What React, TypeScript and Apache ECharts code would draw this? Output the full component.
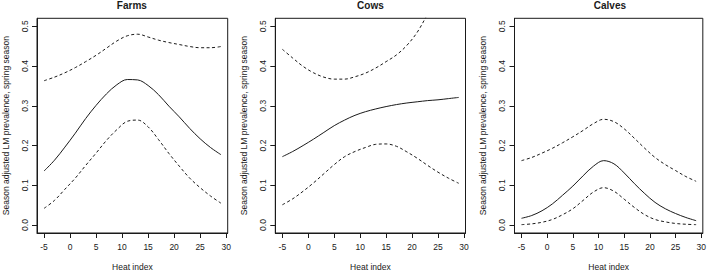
import React, { useEffect, useRef } from "react";
import * as echarts from "echarts";

const heatIndex = [-5, -3, -1, 1, 3, 5, 7, 9, 11, 13, 15, 17, 19, 21, 23, 25, 27, 29];

const farmsFit = [0.136, 0.163, 0.196, 0.231, 0.268, 0.301, 0.330, 0.353, 0.366, 0.365, 0.351, 0.328, 0.299, 0.272, 0.243, 0.217, 0.195, 0.177];
const farmsUpper = [0.363, 0.372, 0.383, 0.396, 0.411, 0.427, 0.445, 0.463, 0.476, 0.480, 0.473, 0.465, 0.459, 0.454, 0.449, 0.446, 0.446, 0.449];
const farmsLower = [0.042, 0.062, 0.090, 0.118, 0.150, 0.181, 0.213, 0.240, 0.261, 0.264, 0.247, 0.215, 0.180, 0.148, 0.118, 0.094, 0.073, 0.055];

const cowsFit = [0.172, 0.185, 0.200, 0.216, 0.233, 0.250, 0.264, 0.276, 0.285, 0.292, 0.298, 0.303, 0.307, 0.310, 0.313, 0.315, 0.318, 0.321];
const cowsUpper = [0.442, 0.420, 0.399, 0.383, 0.372, 0.367, 0.367, 0.373, 0.382, 0.395, 0.411, 0.428, 0.452, 0.485, 0.530, 0.570, 0.620, 0.670];
const cowsLower = [0.051, 0.066, 0.085, 0.106, 0.129, 0.152, 0.172, 0.185, 0.195, 0.203, 0.204, 0.198, 0.184, 0.168, 0.150, 0.133, 0.118, 0.105];

const calvesFit = [0.017, 0.024, 0.036, 0.053, 0.075, 0.098, 0.124, 0.148, 0.162, 0.154, 0.131, 0.104, 0.079, 0.057, 0.041, 0.029, 0.019, 0.011];
const calvesUpper = [0.162, 0.170, 0.181, 0.193, 0.207, 0.222, 0.238, 0.255, 0.266, 0.260, 0.242, 0.218, 0.193, 0.170, 0.152, 0.137, 0.122, 0.110];
const calvesLower = [0.001, 0.003, 0.007, 0.014, 0.026, 0.041, 0.062, 0.083, 0.094, 0.085, 0.065, 0.044, 0.026, 0.014, 0.008, 0.004, 0.002, 0.001];

const panelTitles = ["Farms", "Cows", "Calves"];
const xTicks = [-5, 0, 5, 10, 15, 20, 25, 30];
const yTicks = [0, 0.1, 0.2, 0.3, 0.4, 0.5];
const xAxisTitle = "Heat index";
const yAxisTitle = "Season adjusted LM prevalence, spring season";

const allPanels = [
  { fit: farmsFit, upper: farmsUpper, lower: farmsLower },
  { fit: cowsFit, upper: cowsUpper, lower: cowsLower },
  { fit: calvesFit, upper: calvesUpper, lower: calvesLower },
];

const FONT = "'Liberation Sans', Arial, Helvetica, sans-serif";
const INK = "#1a1a1a";

export default function App() {
  const ref = useRef<HTMLDivElement>(null);

  useEffect(() => {
    if (!ref.current) return;
    const chart = echarts.init(ref.current, undefined, { renderer: "svg" });

    const gridLefts = [36, 275.3, 514.5];
    const gridWidths = [191.7, 190.2, 190.8];
    const top = 18.3;
    const height = 220.2;

    const grids = gridLefts.map((l, i) => ({
      left: l,
      top,
      width: gridWidths[i],
      height,
      show: true,
      borderColor: INK,
      borderWidth: 1,
      backgroundColor: "transparent",
      containLabel: false,
    }));

    const xAxes = gridLefts.map((_, i) => ({
      type: "value",
      gridIndex: i,
      min: -6.36,
      max: 30.3,
      splitLine: { show: false },
      axisLine: { show: true, onZero: false, lineStyle: { color: INK, width: 1 } },
      axisTick: {
        show: true,
        customValues: xTicks,
        length: 5,
        inside: false,
        lineStyle: { color: INK, width: 1 },
      },
      axisLabel: {
        customValues: xTicks,
        fontSize: 8.5,
        fontFamily: FONT,
        color: INK,
        margin: 9,
        formatter: (v: number) => String(v),
      },
      name: xAxisTitle,
      nameLocation: "middle",
      nameGap: 29,
      nameTextStyle: { fontSize: 8.5, fontFamily: FONT, color: INK },
    }));

    const yAxes = gridLefts.map((_, i) => ({
      type: "value",
      gridIndex: i,
      min: -0.02,
      max: 0.52,
      splitLine: { show: false },
      axisLine: { show: true, onZero: false, lineStyle: { color: INK, width: 1 } },
      axisTick: {
        show: true,
        customValues: yTicks,
        length: 5,
        inside: false,
        lineStyle: { color: INK, width: 1 },
      },
      axisLabel: {
        customValues: yTicks,
        rotate: 90,
        fontSize: 8.5,
        fontFamily: FONT,
        color: INK,
        margin: 8,
        formatter: (v: number) => v.toFixed(1),
      },
      name: yAxisTitle,
      nameLocation: "middle",
      nameGap: 27,
      nameTextStyle: { fontSize: 8.5, fontFamily: FONT, color: INK },
    }));

    const series: any[] = [];
    allPanels.forEach((p, i) => {
      const mk = (vals: number[], dashed: boolean) => ({
        type: "line",
        xAxisIndex: i,
        yAxisIndex: i,
        data: heatIndex.map((x, k) => [x, vals[k]]),
        showSymbol: false,
        symbol: "none",
        smooth: 0.35,
        clip: true,
        lineStyle: {
          color: INK,
          width: 1,
          type: dashed ? [3, 2.5] : "solid",
        },
        silent: true,
      });
      series.push(mk(p.upper, true));
      series.push(mk(p.fit, false));
      series.push(mk(p.lower, true));
    });

    const titles = gridLefts.map((l, i) => ({
      text: panelTitles[i],
      left: l + gridWidths[i] / 2,
      top: 0,
      padding: 0,
      textAlign: "center",
      textStyle: {
        fontSize: 10,
        fontWeight: "bold",
        fontFamily: FONT,
        color: INK,
      },
    }));

    chart.setOption({
      animation: false,
      backgroundColor: "#ffffff",
      title: titles,
      grid: grids,
      xAxis: xAxes,
      yAxis: yAxes,
      series,
    } as any);

    return () => chart.dispose();
  }, []);

  return (
    <div
      ref={ref}
      style={{ position: "fixed", left: 0, top: 0, width: 709, height: 276 }}
    />
  );
}
